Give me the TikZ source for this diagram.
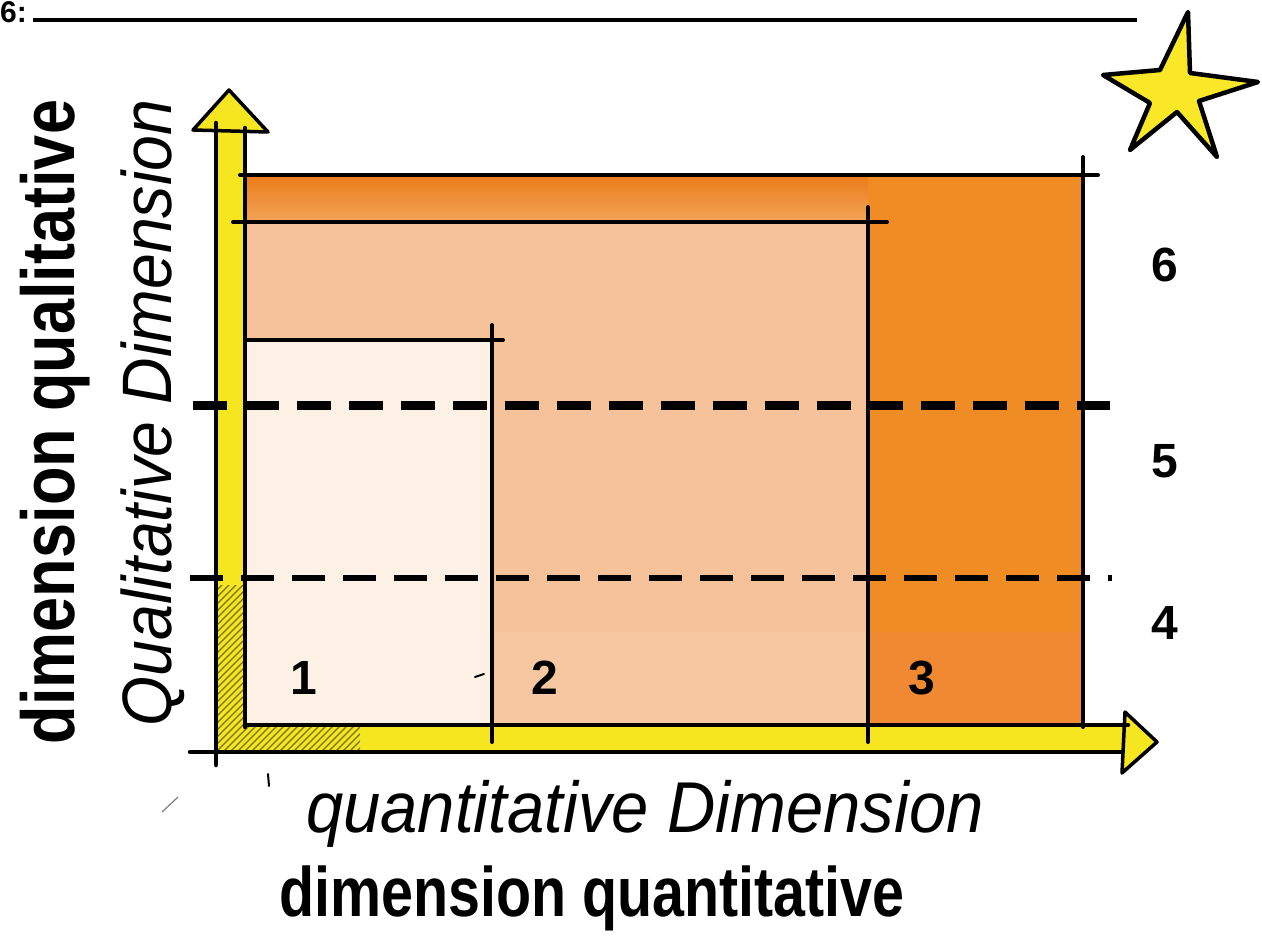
\documentclass[tikz,border=0pt]{standalone}
\usepackage{fontspec}
\setmainfont{Liberation Sans}
\usepackage{graphicx}
\definecolor{axisyellow}{RGB}{246,230,32}
\definecolor{hatchc}{RGB}{120,112,25}
\definecolor{cthree}{RGB}{239,141,36}
\definecolor{cband}{RGB}{235,125,28}
\definecolor{cbandlow}{RGB}{243,163,88}
\definecolor{cthreelow}{RGB}{241,137,50}
\definecolor{ctwo}{RGB}{246,194,153}
\definecolor{ctwolow}{RGB}{247,199,162}
\definecolor{cone}{RGB}{253,240,228}
\definecolor{staryellow}{RGB}{250,232,40}
\begin{document}
\begin{tikzpicture}[x=1pt,y=-1pt,line join=round,
  outl/.style={draw=black,line width=4pt,line cap=round},
  axl/.style={draw=black,line width=4.5pt,line cap=round},
  dashthick/.style={draw=black,line width=9pt,line cap=butt,dash pattern=on 34pt off 18pt},
  dashthin/.style={draw=black,line width=6pt,line cap=butt,dash pattern=on 33pt off 18pt},
  numlab/.style={font=\fontsize{48}{48}\selectfont\bfseries,inner sep=0pt},
  hwthin/.style={font=\fontsize{72}{72}\selectfont\itshape,inner sep=0pt},
  hwbold/.style={font=\fontsize{70}{70}\selectfont\bfseries,inner sep=0pt},
  hatch/.style={draw=hatchc,line width=1.4pt},
  stray/.style={draw=black,line width=2pt,line cap=round}]
\useasboundingbox (0,0) rectangle (1262,944);
\fill[white] (0,0) rectangle (1262,944);

% header
\node[anchor=base west,inner sep=0pt,font=\fontsize{30}{30}\selectfont\bfseries] (hdr) at (0,23) {6:};
\coordinate (hlA) at (33,20);
\coordinate (hlB) at (1137,20);
\draw[line width=3.5pt] (hlA) -- (hlB);

% region fills
\fill[cthree] (245,175) rectangle (1083,725);
\shade[top color=cband,bottom color=cbandlow] (245,177) rectangle (868,222);
\fill[cthreelow] (868,632) rectangle (1083,725);
\fill[ctwo] (245,222) rectangle (868,725);
\fill[ctwolow] (492,632) rectangle (868,725);
\fill[cone] (245,340) rectangle (492,725);

% yellow axes
\fill[axisyellow] (216,125) rectangle (245,752);
\fill[axisyellow] (216,725) rectangle (1125,752);

% hatching in the corner
\begin{scope}
\clip (218,585) -- (243,585) -- (243,727) -- (360,727) -- (360,750) -- (218,750) -- cycle;
\foreach \i in {40,47,...,364} \draw[hatch] (\i,760) -- ++(200,-200);
\end{scope}

% arrowheads
\filldraw[fill=axisyellow,draw=black,line width=3.5pt] (193,130) -- (229,90) -- (268,132) -- cycle;
\filldraw[fill=axisyellow,draw=black,line width=3.5pt] (1125,712) -- (1157,742) -- (1122,773) -- cycle;

% axis outlines
\draw[axl] (216,123) -- (216,765);
\draw[axl] (245,128) -- (245,727);
\draw[axl] (245,725) -- (1128,725);
\draw[axl] (190,752) -- (1122,752);

% rectangle borders
\draw[outl] (240,175) -- (1098,175);
\draw[outl] (1083,157) -- (1083,727);
\draw[outl] (233,222) -- (887,222);
\draw[outl] (868,207) -- (868,742);
\draw[outl] (245,340) -- (503,340);
\draw[outl] (492,325) -- (492,742);

% dashed levels
\draw[dashthick] (193,405) -- (1110,405);
\draw[dashthin] (190,578) -- (1112,578);

% stray pen marks
\draw[stray] (475,677) -- (484,674);
\draw[stray] (268,774) -- (269,786);
\draw[black!50,line width=1.2pt] (162,812) -- (178,797);

% star
\filldraw[fill=staryellow,draw=black,line width=4.5pt]
  (1188,12) -- (1190,73) -- (1258,82) -- (1199,101) -- (1217,157) -- (1177,112)
  -- (1130,150) -- (1150,103) -- (1103,75) -- (1160,70) -- cycle;

% numbers
\node[numlab] (n1) at (304,678) {1};
\node[numlab] (n2) at (545,678) {2};
\node[numlab] (n3) at (922,678) {3};
\node[numlab] (n4) at (1165,623) {4};
\node[numlab] (n5) at (1165,461) {5};
\node[numlab] (n6) at (1165,265) {6};

% axis labels
\node[hwthin] (xq) at (645,814) {\scalebox{0.93}[1]{quantitative Dimension}};
\node[hwbold] (xf) at (592,898) {\scalebox{0.82}[1]{dimension quantitative}};
\node[hwbold,rotate=90,font=\fontsize{75}{75}\selectfont\bfseries] (yf) at (55,422) {\scalebox{0.84}[1]{dimension qualitative}};
\node[hwthin,rotate=90,font=\fontsize{70}{70}\selectfont\itshape] (yq) at (153,413) {\scalebox{0.92}[1]{Qualitative Dimension}};
\end{tikzpicture}
\end{document}
